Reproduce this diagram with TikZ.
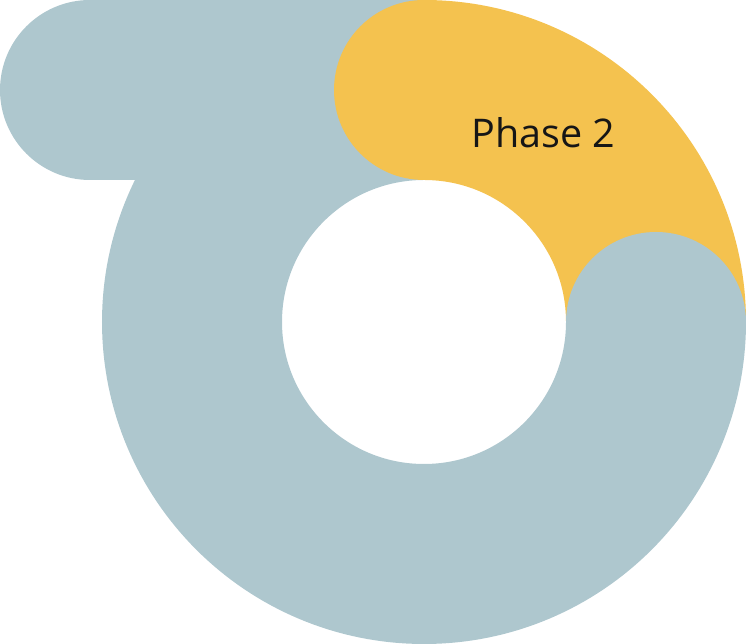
\documentclass[tikz,border=0pt]{standalone}
\usepackage{fontspec}
\setmainfont{Open Sans}
\definecolor{ringblue}{HTML}{AEC7CE}
\definecolor{ringyellow}{HTML}{F4C24F}
\definecolor{labeltext}{HTML}{161616}
\tikzset{
  band/.style={line width=180pt},
  phaselabel/.style={text=labeltext, font=\fontsize{39.5}{46}\selectfont, inner sep=0pt},
}
\begin{document}
\begin{tikzpicture}[x=1pt,y=1pt]
\useasboundingbox (0,0) rectangle (746,644);
\coordinate (cap) at (90,554);
\coordinate (top) at (424,554);
\coordinate (right) at (656,322);
\draw[band, line cap=round, ringblue] (cap) -- (top) arc[start angle=90, end angle=360, radius=232];
\draw[band, line cap=butt, ringyellow] (top) arc[start angle=90, end angle=0, radius=232];
\fill[ringyellow] (top) circle[radius=90];
\fill[ringblue] (right) circle[radius=90];
\node[phaselabel, anchor=base] (phase) at (543.5,496) {Phase 2};
\end{tikzpicture}
\end{document}
